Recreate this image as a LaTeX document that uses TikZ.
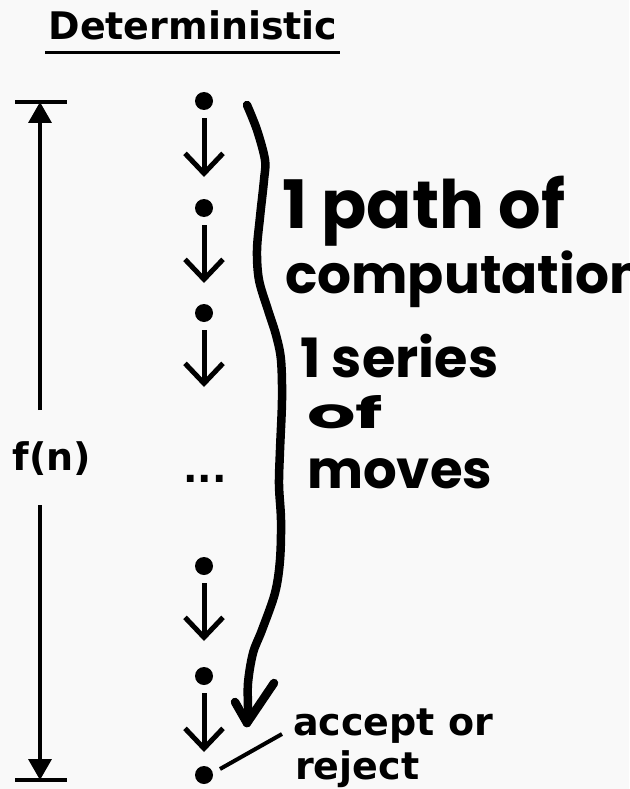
\documentclass[tikz,border=0pt]{standalone}
\usepackage{fontspec}
\usepackage{graphicx}
\setmainfont{DejaVu Sans}
\newfontfamily\hand{Poppins}
\usetikzlibrary{arrows.meta}
\definecolor{bg}{RGB}{249,249,249}
\begin{document}
\begin{tikzpicture}[x=1pt,y=-1pt,
  lbl/.style={font=\fontsize{38}{44}\selectfont\bfseries, inner sep=0},
  dot/.style={circle,fill=black,inner sep=0,minimum size=18pt},
  move/.style={line width=5pt,-{Straight Barb[length=20pt,width=38pt]}},
  dim/.style={line width=3.5pt},
  dimtip/.style={-{Triangle[length=21pt,width=23pt]}},
  hw/.style={inner sep=0,anchor=base west,font=\hand\bfseries},
  marker/.style={line width=8.5pt,line cap=round,line join=round}]
\fill[bg] (0,0) rectangle (629,789);
\useasboundingbox (0,0) rectangle (629,789);

% title
\node[lbl,anchor=base] (title) at (193,40) {Deterministic};
\draw[line width=3pt] (45,53) -- (340,53);

% dimension line
\coordinate (top) at (40,102);
\coordinate (bot) at (40,780);
\draw[dim] (15,102) -- (67,102);
\draw[dim] (15,780) -- (67,780);
\node[lbl,anchor=base] (fn) at (52,470) {f(n)};
\draw[dim,dimtip] (40,410) -- (top);
\draw[dim,dimtip] (40,505) -- (bot);

% steps
\node[dot] (d1) at (204,101) {};
\node[dot] (d2) at (204,208) {};
\node[dot] (d3) at (204,313) {};
\node[lbl,anchor=base] (dd) at (205,482) {...};
\node[dot] (d4) at (204,566) {};
\node[dot] (d5) at (204,676) {};
\node[dot] (d6) at (204,775) {};
\coordinate (t1) at (204,177);
\coordinate (t2) at (204,283);
\coordinate (t3) at (204,387);
\coordinate (t4) at (204,641);
\coordinate (t5) at (204,752);
\draw[move] (d1.south) ++(0,8) -- (t1);
\draw[move] (d2.south) ++(0,8) -- (t2);
\draw[move] (d3.south) ++(0,8) -- (t3);
\draw[move] (d4.south) ++(0,8) -- (t4);
\draw[move] (d5.south) ++(0,8) -- (t5);

% accept or reject
\node[lbl,anchor=base west] (acc) at (293,735) {accept or};
\node[lbl,anchor=base west] (rej) at (295,779) {reject};
\coordinate (lend) at (282,734);
\draw[line width=4pt] (220,769) -- (lend);

% hand drawn brace arrow
\draw[marker] plot[smooth,tension=0.55] coordinates {(247,105) (257,130) (265,160) (264,180) (260,217) (257,250) (259,280) (268,310) (276,335) (281,360) (282,400) (280,450) (279,485) (281,520) (280,560) (275,593) (262,630) (253,653) (248,683) (248,710) (247,723)};
\draw[marker] (235,702) -- (247,723) -- (274,683);

% handwritten notes
\node[hw] (h1) at (282,228) {\resizebox{283pt}{!}{1 path of}};
\node[hw] (h2) at (285,293) {\resizebox{360pt}{!}{computation}};
\node[hw] (h3) at (300,377) {\resizebox{198pt}{!}{1 series}};
\node[hw] (h4) at (307,428) {\resizebox{76pt}{33pt}{of}};
\node[hw] (h5) at (307,488) {\resizebox{185pt}{!}{moves}};
\end{tikzpicture}
\end{document}
